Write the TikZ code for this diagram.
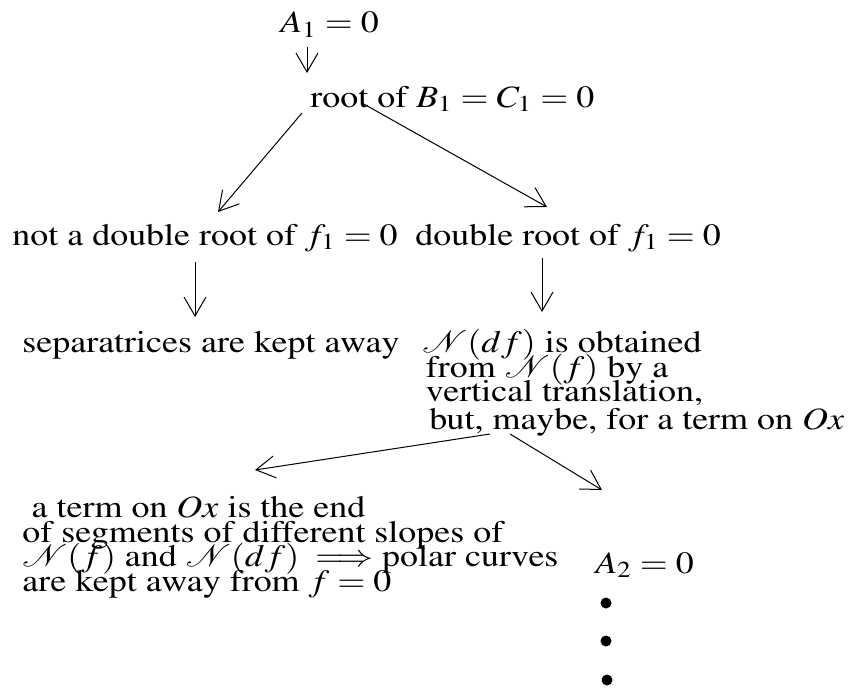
\documentclass[tikz,border=0pt]{standalone}
\usepackage[T1]{fontenc}
\usepackage{mathptmx}
\usepackage{amsmath}
\usepackage{graphicx}
\usetikzlibrary{arrows.meta}

\newcommand{\tightlines}{\lineskiplimit=-50pt\relax}
% texto alargado na horizontal, linhas separadas por \cr
\newcommand{\widelines}[1]{\scalebox{1.16}[1]{\vbox{\halign{##\hfil\cr#1\crcr}}}}

\begin{document}
\begin{tikzpicture}[
  x=0.5pt, y=-0.5pt,
  flowarrow/.style={-{Straight Barb[length=9.5pt, width=11pt]}, line width=0.5pt},
  flowtext/.style={anchor=base west, inner sep=0pt,
                   font=\fontsize{15.5}{12.25}\selectfont\tightlines},
  flowdot/.style={circle, fill=black, inner sep=0pt, minimum size=5.5pt}
]
\useasboundingbox (0,0) rectangle (854,690);

% -------- TOP: A_1 AND ITS ROOT --------
\node[flowtext] (a1) at (280,33) {\widelines{$A_1=0$}};
\node[flowtext] (b1) at (310,107) {\widelines{root of $B_1=C_1=0$}};

% -------- SECOND LEVEL --------
\node[flowtext] (notdbl) at (12,245) {\widelines{not a double root of $f_1=0$}};
\node[flowtext] (dbl) at (415,245) {\widelines{double root of $f_1=0$}};

% -------- THIRD LEVEL --------
\node[flowtext] (sep) at (22,352) {\widelines{separatrices are kept away}};
\node[flowtext] (vert) at (422,429) {\widelines{$\mathcal{N}(df)$ is obtained\cr
  \hspace*{1.5pt}from $\mathcal{N}(f)$ by a\cr
  \hspace*{1.5pt}vertical translation,\cr
  \noalign{\kern1.5pt}
  \hspace*{3pt}but, maybe, for a term on $Ox$}};

% -------- BOTTOM --------
\node[flowtext] (term) at (22,591) {\widelines{\hspace*{4pt}a term on $Ox$ is the end\cr
  of segments of different slopes of\cr
  $\mathcal{N}(f)$ and $\mathcal{N}(df)\;\Longrightarrow$ polar curves\cr
  are kept away from $f=0$}};
\node[flowtext] (a2) at (595,573) {\widelines{$A_2=0$}};
\node[flowdot] (d1) at (606,603) {};
\node[flowdot] (d2) at (606,641) {};
\node[flowdot] (d3) at (607,680) {};

% Pontos de saida e chegada das setas
\coordinate (a1-out) at (307,47);
\coordinate (b1-in) at (307,73);
\coordinate (b1-outL) at (302,113);
\coordinate (b1-outR) at (362,103);
\coordinate (notdbl-in) at (218,212);
\coordinate (dbl-in) at (547,207);
\coordinate (notdbl-out) at (195,262);
\coordinate (sep-in) at (195,317);
\coordinate (dbl-out) at (542,258);
\coordinate (vert-in) at (542,312);
\coordinate (vert-outL) at (490,434);
\coordinate (vert-outR) at (510,434);
\coordinate (term-in) at (255,470);
\coordinate (a2-in) at (602,490);

% Setas
\draw[flowarrow] (a1-out) -- (b1-in);
\draw[flowarrow] (b1-outL) -- (notdbl-in);
\draw[flowarrow] (b1-outR) -- (dbl-in);
\draw[flowarrow] (notdbl-out) -- (sep-in);
\draw[flowarrow] (dbl-out) -- (vert-in);
\draw[flowarrow] (vert-outL) -- (term-in);
\draw[flowarrow] (vert-outR) -- (a2-in);

\end{tikzpicture}
\end{document}
